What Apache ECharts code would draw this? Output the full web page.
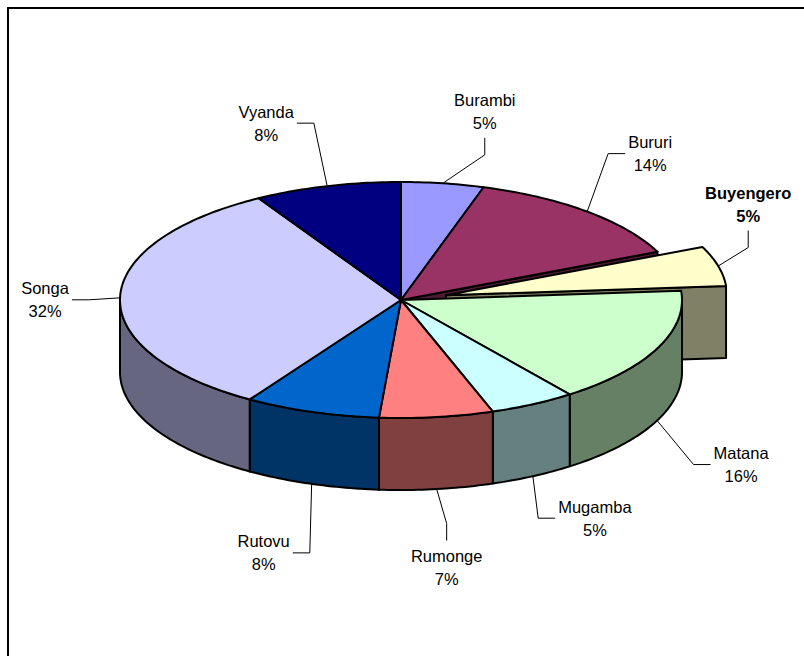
<!DOCTYPE html>
<html><head><meta charset="utf-8">
<script src="https://cdn.jsdelivr.net/npm/echarts@6/dist/echarts.min.js"></script>
<style>html,body{margin:0;padding:0;background:#fff}#c{width:804px;height:656px}</style>
</head><body><div id="c"></div>
<script>
// ---- data ----
const categories = ['Burambi','Bururi','Buyengero','Matana','Mugamba','Rumonge','Rutovu','Songa','Vyanda'];
const values = [4.75, 13.55, 5.45, 16.0, 4.95, 6.55, 7.8, 32.49, 8.46];
const explodedSlices = ['Buyengero'];
const boldLabels = ['Buyengero'];
// ---- styles / layout ----
const colors = ['#9999FF','#993366','#FFFFCC','#CCFFCC','#CCFFFF','#FF8080','#0066CC','#CCCCFF','#000080'];
const labelOffsets = [[42,-72],[63,-58],[30,-62],[84,44],[62,42],[10,78],[-48,69],[-75,2],[-61,-63]];
const CX = 401, CY = 300, RX = 281, RY = 118, DEPTH = 72, EXPLODE = 0.165;
const FONT_SIZE = 16.5, LINE_H = 23, FONT_FAMILY = '"Liberation Sans", Arial, sans-serif';

const total = values.reduce((a, b) => a + b, 0);
const n = values.length;
const slices = [];
let cum = 0;
values.forEach((v, i) => {
  const a0 = cum / total * 2 * Math.PI; cum += v;
  const a1 = cum / total * 2 * Math.PI;
  const mid = (a0 + a1) / 2;
  const ex = explodedSlices.includes(categories[i]);
  const off = ex ? [EXPLODE * RX * Math.sin(mid), -EXPLODE * RY * Math.cos(mid)] : [0, 0];
  slices.push({ a0, a1, mid, off, ex });
});

function shade(hex, f) {
  const h = hex.replace('#', '');
  const r = Math.round(parseInt(h.slice(0, 2), 16) * f), g = Math.round(parseInt(h.slice(2, 4), 16) * f), b = Math.round(parseInt(h.slice(4, 6), 16) * f);
  return 'rgb(' + r + ',' + g + ',' + b + ')';
}
function pt(a, off, h) { return [CX + off[0] + RX * Math.sin(a), CY + off[1] - RY * Math.cos(a) + h]; }
function arc(a0, a1, off, h) {
  const steps = Math.max(2, Math.ceil(Math.abs(a1 - a0) / (Math.PI / 180)));
  const pts = [];
  for (let k = 0; k <= steps; k++) pts.push(pt(a0 + (a1 - a0) * k / steps, off, h));
  return pts;
}
function poly(points, fill) {
  return { type: 'polygon', shape: { points }, style: { fill, stroke: '#000', lineWidth: 2, lineJoin: 'round' } };
}
function face(a, off, fill) {
  const c0 = [CX + off[0], CY + off[1]], r0 = pt(a, off, 0);
  return poly([c0, r0, [r0[0], r0[1] + DEPTH], [c0[0], c0[1] + DEPTH]], fill);
}
const measureCtx = document.createElement('canvas').getContext('2d');
function textWidth(lines, bold) {
  measureCtx.font = (bold ? 'bold ' : '') + FONT_SIZE + 'px ' + FONT_FAMILY;
  return Math.max.apply(null, lines.map(l => measureCtx.measureText(l).width));
}

function renderWalls(params) {
  const i = params.dataIndex, s = slices[i];
  const side = shade(colors[i], 0.5);
  const children = [];
  const prevEx = slices[(i - 1 + n) % n].ex, nextEx = slices[(i + 1) % n].ex;
  if ((s.ex || prevEx) && Math.sin(s.a0) < 0) children.push(face(s.a0, s.off, side));
  if ((s.ex || nextEx) && Math.sin(s.a1) > 0) children.push(face(s.a1, s.off, side));
  const w0 = Math.max(s.a0, Math.PI / 2), w1 = Math.min(s.a1, 1.5 * Math.PI);
  if (w1 > w0) children.push(poly(arc(w0, w1, s.off, 0).concat(arc(w1, w0, s.off, DEPTH)), side));
  return { type: 'group', children };
}

function renderTops(params) {
  const i = params.dataIndex, s = slices[i];
  const children = [];
  children.push(poly([[CX + s.off[0], CY + s.off[1]]].concat(arc(s.a0, s.a1, s.off, 0)), colors[i]));
  // label + leader
  const front = Math.cos(s.mid) < 0;
  const P = pt(s.mid, s.off, front ? DEPTH : 0);
  const d = labelOffsets[i];
  const L = [P[0] + d[0], P[1] + d[1]];
  const bold = boldLabels.includes(categories[i]);
  const pct = Math.round(values[i] / total * 100) + '%';
  const lines = [categories[i], pct];
  const hw = textWidth(lines, bold) / 2 + 3, hh = LINE_H + 3.5;
  let attach, elbow;
  if (Math.abs(d[1]) > 1.5 * Math.abs(d[0])) {
    const sg = d[1] < 0 ? 1 : -1;
    attach = [L[0], L[1] + sg * hh];
    elbow = [attach[0], attach[1] + sg * 17];
  } else {
    const sg = d[0] < 0 ? 1 : -1;
    attach = [L[0] + sg * hw, L[1]];
    elbow = [attach[0] + sg * 17, attach[1]];
  }
  children.push({ type: 'polyline', shape: { points: [P, elbow, attach] }, style: { fill: null, stroke: '#000', lineWidth: 1 } });
  children.push({ type: 'text', x: L[0], y: L[1], style: {
    text: lines.join('\n'), align: 'center', verticalAlign: 'middle', lineHeight: LINE_H,
    fontSize: FONT_SIZE, fontFamily: FONT_FAMILY, fontWeight: bold ? 'bold' : 'normal', fill: '#000' } });
  return { type: 'group', children };
}

const chart = echarts.init(document.getElementById('c'), null, { renderer: 'svg' });
const seriesData = categories.map((c, i) => ({ name: c, value: values[i] }));
chart.setOption({
  animation: false,
  backgroundColor: '#fff',
  graphic: [{ type: 'rect', shape: { x: 8, y: 8, width: 900, height: 800 }, style: { fill: null, stroke: '#000', lineWidth: 2 }, z: 0 }],
  series: [
    { type: 'custom', coordinateSystem: 'none', renderItem: renderWalls, data: seriesData, z: 2 },
    { type: 'custom', coordinateSystem: 'none', renderItem: renderTops, data: seriesData, z: 3 }
  ]
});
</script></body></html>
